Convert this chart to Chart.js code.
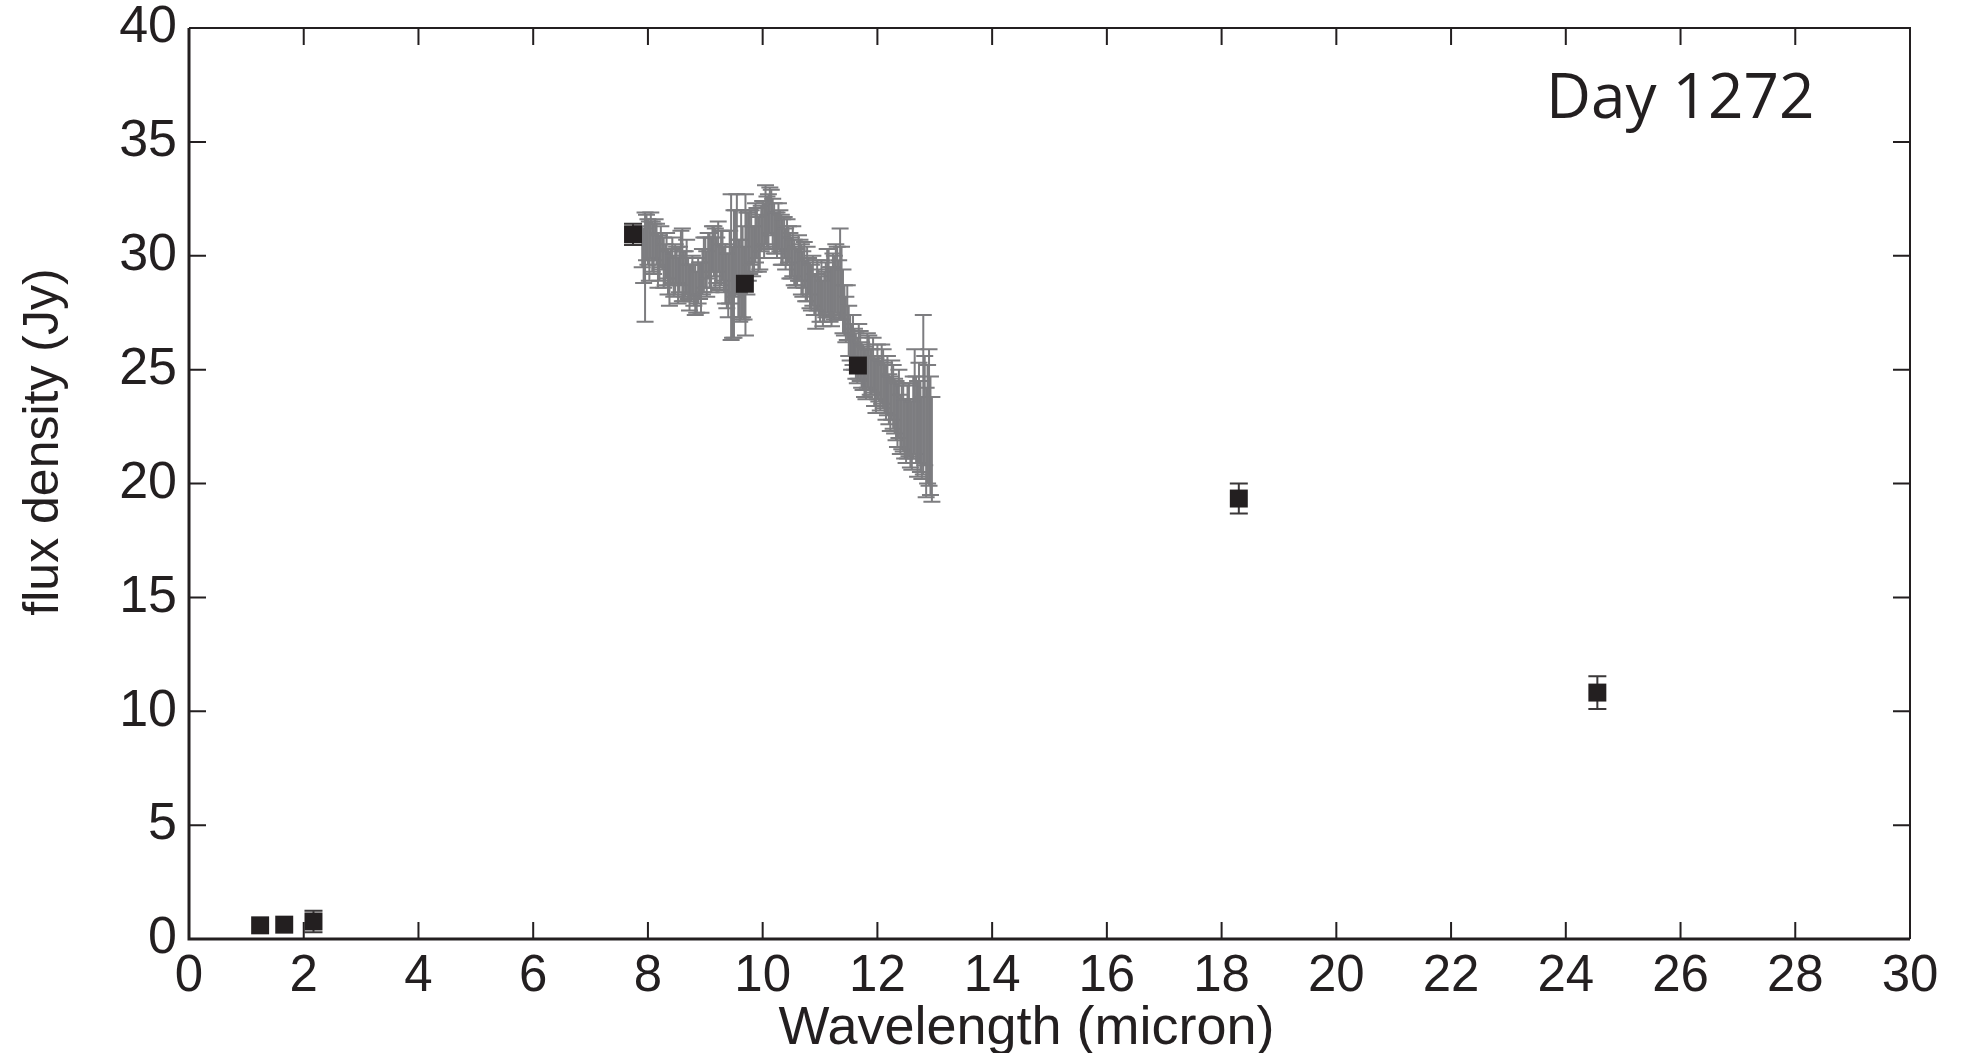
<!DOCTYPE html>
<html>
<head>
<meta charset="utf-8">
<script src="https://cdn.jsdelivr.net/npm/chart.js@4.4.1/dist/chart.umd.min.js"></script>
<style>
    html, body { margin: 0; padding: 0; background: #ffffff; }
    #wrap { position: relative; width: 1973px; height: 1053px; }
</style>
</head>
<body>
<div id="wrap"><canvas id="sedChart"></canvas></div>
<script>
// Spectrum (grey, error bars only)
const specWavelength = [
    7.900, 7.925, 7.950, 7.975, 8.000, 8.025, 8.050, 8.075, 8.100, 8.125,
    8.150, 8.175, 8.200, 8.225, 8.250, 8.275, 8.300, 8.325, 8.350, 8.375,
    8.400, 8.425, 8.450, 8.475, 8.500, 8.525, 8.550, 8.575, 8.600, 8.625,
    8.650, 8.675, 8.700, 8.725, 8.750, 8.775, 8.800, 8.825, 8.850, 8.875,
    8.900, 8.925, 8.950, 8.975, 9.000, 9.025, 9.050, 9.075, 9.100, 9.125,
    9.150, 9.175, 9.200, 9.225, 9.250, 9.275, 9.300, 9.325, 9.350, 9.375,
    9.400, 9.425, 9.450, 9.475, 9.500, 9.525, 9.550, 9.575, 9.600, 9.625,
    9.650, 9.675, 9.700, 9.725, 9.750, 9.775, 9.800, 9.825, 9.850, 9.875,
    9.900, 9.925, 9.950, 9.975, 10.000, 10.025, 10.050, 10.075, 10.100, 10.125,
    10.150, 10.175, 10.200, 10.225, 10.250, 10.275, 10.300, 10.325, 10.350, 10.375,
    10.400, 10.425, 10.450, 10.475, 10.500, 10.525, 10.550, 10.575, 10.600, 10.625,
    10.650, 10.675, 10.700, 10.725, 10.750, 10.775, 10.800, 10.825, 10.850, 10.875,
    10.900, 10.925, 10.950, 10.975, 11.000, 11.025, 11.050, 11.075, 11.100, 11.125,
    11.150, 11.175, 11.200, 11.225, 11.250, 11.275, 11.300, 11.325, 11.350, 11.375,
    11.400, 11.425, 11.450, 11.475, 11.500, 11.525, 11.550, 11.575, 11.600, 11.625,
    11.650, 11.675, 11.700, 11.725, 11.750, 11.775, 11.800, 11.825, 11.850, 11.875,
    11.900, 11.925, 11.950, 11.975, 12.000, 12.025, 12.050, 12.075, 12.100, 12.125,
    12.150, 12.175, 12.200, 12.225, 12.250, 12.275, 12.300, 12.325, 12.350, 12.375,
    12.400, 12.425, 12.450, 12.475, 12.500, 12.525, 12.550, 12.575, 12.600, 12.625,
    12.650, 12.675, 12.700, 12.725, 12.750, 12.775, 12.800, 12.825, 12.850, 12.875,
    12.900, 12.925, 12.950
];
const specFlux = [
    30.4, 30.0, 29.5, 30.8, 30.6, 30.2, 30.9, 30.4, 30.3, 30.7,
    30.5, 29.8, 29.9, 30.4, 30.2, 29.7, 29.6, 30.0, 29.3, 29.0,
    29.5, 29.8, 29.1, 29.4, 29.6, 28.9, 29.4, 29.9, 29.6, 29.1,
    29.2, 29.5, 29.0, 28.6, 28.8, 29.1, 28.7, 28.5, 28.4, 28.9,
    28.9, 28.6, 29.3, 29.6, 29.7, 29.2, 30.0, 29.8, 29.6, 30.3,
    30.2, 29.9, 29.8, 30.4, 29.5, 29.9, 30.0, 29.4, 29.2, 28.9,
    28.7, 29.5, 29.5, 28.4, 29.2, 30.1, 30.5, 29.0, 28.9, 29.6,
    29.3, 28.8, 29.6, 30.1, 30.4, 30.6, 30.8, 30.2, 30.3, 31.0,
    31.0, 30.5, 30.6, 31.2, 31.4, 31.1, 31.8, 31.5, 31.5, 32.0,
    31.9, 31.4, 31.2, 31.0, 30.9, 31.3, 31.1, 30.7, 30.6, 30.8,
    30.3, 30.6, 30.5, 30.0, 29.9, 30.2, 29.7, 29.5, 29.5, 29.9,
    29.8, 29.4, 29.2, 29.6, 28.9, 29.2, 29.1, 28.7, 28.6, 28.9,
    28.3, 28.0, 28.7, 28.4, 28.1, 28.6, 27.9, 28.2, 28.5, 28.9,
    28.8, 28.3, 28.2, 28.7, 28.6, 29.0, 28.9, 28.5, 29.2, 28.8,
    28.0, 27.6, 27.2, 27.5, 26.7, 26.4, 26.0, 26.3, 25.9, 25.6,
    25.4, 25.8, 25.6, 25.2, 25.1, 24.9, 24.8, 25.4, 25.3, 24.9,
    24.9, 25.2, 24.5, 24.3, 24.9, 24.6, 24.3, 24.8, 24.6, 24.2,
    24.0, 24.3, 23.7, 23.5, 24.1, 23.8, 23.4, 23.2, 23.0, 23.5,
    22.6, 22.9, 22.9, 22.4, 22.3, 22.7, 22.8, 22.2, 22.1, 22.9,
    23.6, 22.8, 22.4, 23.1, 22.5, 22.0, 23.9, 23.2, 21.8, 22.6,
    22.9, 22.1, 21.5
];
const specErr = [
    0.9, 1.2, 2.4, 1.0, 1.0, 1.3, 1.0, 1.1, 1.1, 0.9,
    0.9, 1.2, 1.0, 0.9, 0.8, 1.1, 0.9, 1.0, 1.0, 1.2,
    0.8, 1.0, 0.9, 1.1, 0.8, 1.0, 1.0, 1.2, 1.6, 1.1,
    1.0, 1.2, 0.9, 1.0, 0.8, 0.9, 0.9, 1.1, 0.9, 1.0,
    0.8, 1.1, 1.0, 1.2, 1.1, 1.0, 1.0, 1.2, 1.2, 1.0,
    1.1, 1.3, 1.0, 1.1, 1.0, 1.2, 1.1, 1.0, 1.3, 1.2,
    1.4, 1.6, 3.2, 2.0, 2.8, 1.9, 2.2, 1.7, 1.8, 2.4,
    2.0, 1.6, 3.1, 1.8, 1.5, 1.4, 1.2, 1.1, 1.0, 1.3,
    1.1, 1.2, 1.2, 1.0, 1.0, 1.2, 1.3, 1.1, 1.2, 1.0,
    1.0, 1.1, 1.1, 0.9, 1.0, 1.0, 0.9, 1.1, 1.0, 0.9,
    0.9, 1.0, 0.8, 1.0, 0.9, 1.1, 1.0, 0.9, 0.8, 1.0,
    0.9, 1.1, 1.0, 1.0, 0.9, 1.2, 0.8, 1.0, 1.0, 1.1,
    0.9, 1.2, 1.1, 1.0, 1.0, 1.2, 1.0, 1.1, 1.2, 1.4,
    1.5, 1.2, 1.3, 1.4, 1.4, 1.5, 1.5, 1.3, 2.0, 1.6,
    1.4, 1.1, 1.0, 1.2, 1.1, 1.0, 1.0, 1.1, 0.9, 1.0,
    1.0, 1.2, 1.1, 1.0, 1.0, 1.1, 1.1, 1.2, 1.2, 1.0,
    1.0, 1.2, 1.1, 1.2, 1.2, 1.0, 1.1, 1.3, 1.3, 1.1,
    1.2, 1.3, 1.1, 1.2, 1.3, 1.4, 1.2, 1.3, 1.4, 1.5,
    1.3, 1.4, 1.5, 1.3, 1.4, 1.6, 1.6, 1.5, 1.5, 1.8,
    2.3, 1.9, 2.1, 2.2, 2.0, 1.8, 3.5, 2.4, 2.4, 2.6,
    3.0, 2.6, 2.3
];

// Photometry (black squares)
const photWavelength = [1.24, 1.66, 2.17, 7.74, 9.69, 11.66, 18.30, 24.55];
const photFlux = [0.60, 0.63, 0.77, 30.94, 28.77, 25.18, 19.34, 10.82];
const photErr = [0, 0, 0.47, 0.47, 0, 0, 0.66, 0.72];

const xTicks = [0, 2, 4, 6, 8, 10, 12, 14, 16, 18, 20, 22, 24, 26, 28, 30];
const yTicks = [0, 5, 10, 15, 20, 25, 30, 35, 40];

const ink = '#231f20';
const fontFamily = "'Liberation Sans', Arial, Helvetica, sans-serif";

// Error bars drawn under the squares
const errorBarPlugin = {
    id: 'errorBars',
    beforeDatasetsDraw(chart) {
        const { ctx, scales: { x, y } } = chart;
        chart.data.datasets.forEach(ds => {
            if (!ds.errors) return;
            ctx.save();
            ctx.strokeStyle = ds.errorColor;
            ctx.lineWidth = 2;
            ds.data.forEach((p, i) => {
                const e = ds.errors[i];
                if (!e) return;
                const px = x.getPixelForValue(p.x);
                const top = y.getPixelForValue(p.y + e);
                const bot = y.getPixelForValue(p.y - e);
                const cw = ds.capHalfWidth;
                ctx.beginPath();
                ctx.moveTo(px, top);
                ctx.lineTo(px, bot);
                ctx.moveTo(px - cw, top);
                ctx.lineTo(px + cw, top);
                ctx.moveTo(px - cw, bot);
                ctx.lineTo(px + cw, bot);
                ctx.stroke();
            });
            ctx.restore();
        });
    }
};

// Frame with inward ticks on all four sides, plus axis titles and label
const framePlugin = {
    id: 'frame',
    afterDraw(chart) {
        const { ctx, chartArea: a, scales: { x, y } } = chart;
        const tl = 17;
        ctx.save();
        ctx.strokeStyle = ink;
        ctx.lineWidth = 2;
        ctx.beginPath();
        xTicks.forEach(v => {
            if (v === x.min || v === x.max) return;
            const px = x.getPixelForValue(v);
            ctx.moveTo(px, a.bottom);
            ctx.lineTo(px, a.bottom - tl);
            ctx.moveTo(px, a.top);
            ctx.lineTo(px, a.top + tl);
        });
        yTicks.forEach(v => {
            if (v === y.min || v === y.max) return;
            const py = y.getPixelForValue(v);
            ctx.moveTo(a.left, py);
            ctx.lineTo(a.left + tl, py);
            ctx.moveTo(a.right, py);
            ctx.lineTo(a.right - tl, py);
        });
        ctx.stroke();

        // top and right edges (thinner)
        ctx.beginPath();
        ctx.moveTo(a.left, a.top);
        ctx.lineTo(a.right, a.top);
        ctx.lineTo(a.right, a.bottom);
        ctx.stroke();

        // left and bottom axes (heavier)
        ctx.lineWidth = 3;
        ctx.beginPath();
        ctx.moveTo(a.left, a.top);
        ctx.lineTo(a.left, a.bottom);
        ctx.lineTo(a.right, a.bottom);
        ctx.stroke();

        ctx.fillStyle = ink;
        ctx.textAlign = 'center';
        ctx.textBaseline = 'alphabetic';
        ctx.font = '54px ' + fontFamily;
        ctx.fillText('Wavelength (micron)', (a.left + a.right) / 2 - 23, 1044);

        ctx.font = '50px ' + fontFamily;
        ctx.translate(58, 442);
        ctx.rotate(-Math.PI / 2);
        ctx.fillText('flux density (Jy)', 0, 0);
        ctx.restore();

        ctx.save();
        ctx.fillStyle = ink;
        ctx.font = "62px 'Open Sans', sans-serif";
        ctx.textAlign = 'left';
        ctx.textBaseline = 'alphabetic';
        ctx.fillText('Day 1272', 1546, 118);
        ctx.restore();
    }
};

const spectrumData = specWavelength.map((w, i) => ({ x: w, y: specFlux[i] }));
const photData = photWavelength.map((w, i) => ({ x: w, y: photFlux[i] }));

new Chart(document.getElementById('sedChart'), {
    type: 'scatter',
    data: {
        datasets: [
            {
                label: 'spectrum',
                data: spectrumData,
                errors: specErr,
                errorColor: '#7d7d80',
                capHalfWidth: 8.5,
                pointRadius: 0,
                showLine: false
            },
            {
                label: 'photometry',
                data: photData,
                errors: photErr,
                errorColor: '#3b3839',
                capHalfWidth: 9,
                pointStyle: 'rect',
                pointRadius: 12.7,
                borderWidth: 0,
                backgroundColor: ink
            }
        ]
    },
    options: {
        responsive: true,
        maintainAspectRatio: false,
        animation: false,
        layout: { padding: { left: 0, top: 28, right: 63, bottom: 0 } },
        plugins: {
            legend: { display: false },
            tooltip: { enabled: false }
        },
        scales: {
            x: {
                type: 'linear',
                min: 0,
                max: 30,
                afterFit: s => {
                    s.height = 114;
                    s.paddingLeft = 0;
                    s.paddingRight = 0;
                },
                afterBuildTicks: s => { s.ticks = xTicks.map(v => ({ value: v })); },
                grid: { display: false, drawTicks: false },
                border: { display: false },
                ticks: {
                    padding: 7,
                    maxRotation: 0,
                    autoSkip: false,
                    color: ink,
                    font: { family: fontFamily, size: 51 }
                }
            },
            y: {
                type: 'linear',
                min: 0,
                max: 40,
                afterFit: s => {
                    s.width = 189;
                    s.paddingTop = 0;
                    s.paddingBottom = 0;
                },
                afterBuildTicks: s => { s.ticks = yTicks.map(v => ({ value: v })); },
                grid: { display: false, drawTicks: false },
                border: { display: false },
                ticks: {
                    padding: 12,
                    autoSkip: false,
                    color: ink,
                    font: { family: fontFamily, size: 52 }
                }
            }
        }
    },
    plugins: [errorBarPlugin, framePlugin]
});
</script>
</body>
</html>
